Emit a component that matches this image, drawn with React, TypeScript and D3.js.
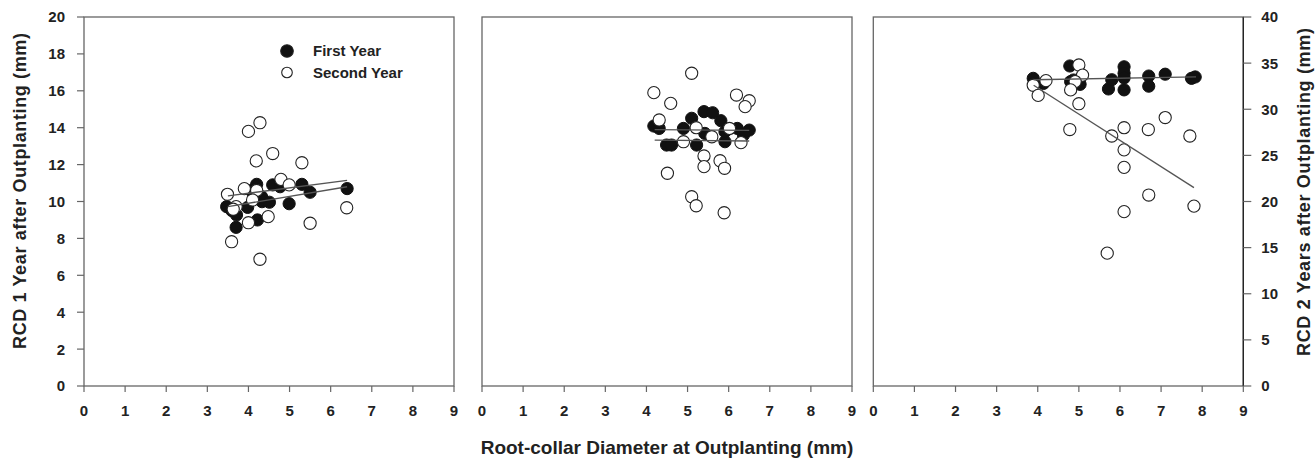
import * as d3 from "d3";

// x = RCD at outplanting (mm), y = RCD after outplanting (mm)
const p1First = [
  [3.47, 9.72], [3.6, 9.5], [3.7, 8.6], [3.71, 9.27], [3.98, 9.68], [4.06, 10.6],
  [4.2, 10.93], [4.22, 9.0], [4.32, 10.26], [4.33, 9.99], [4.51, 9.96], [4.59, 10.9],
  [4.77, 10.8], [4.99, 9.88], [5.3, 10.93], [5.5, 10.5], [6.4, 10.7],
];
const p1Second = [
  [4.28, 14.27], [4.0, 13.8], [4.59, 12.6], [4.19, 12.2], [5.3, 12.1], [4.79, 11.2],
  [4.99, 10.9], [3.9, 10.7], [4.2, 10.6], [3.49, 10.39], [4.1, 10.08], [3.7, 9.72],
  [3.63, 9.58], [4.48, 9.18], [4.0, 8.85], [5.5, 8.82], [6.39, 9.66], [3.59, 7.82],
  [4.28, 6.87],
];
const p2First = [
  [4.18, 14.09], [4.31, 13.96], [4.49, 13.06], [4.61, 13.06], [4.9, 13.96], [5.1, 14.51],
  [5.22, 13.06], [5.4, 14.87], [5.61, 14.81], [5.81, 14.38], [5.42, 13.69], [5.91, 13.24],
  [5.91, 13.78], [6.21, 13.96], [6.36, 13.6], [6.5, 13.87],
];
const p2Second = [
  [5.1, 16.95], [4.18, 15.9], [4.59, 15.32], [6.19, 15.77], [6.5, 15.46], [6.4, 15.14],
  [4.31, 14.42], [5.21, 14.0], [6.02, 13.96], [5.59, 13.51], [4.9, 13.24], [6.3, 13.19],
  [5.4, 12.47], [5.4, 11.89], [5.79, 12.21], [5.9, 11.8], [4.51, 11.53], [5.1, 10.26],
  [5.21, 9.77], [5.89, 9.39],
];
const p3First = [
  [3.89, 33.35], [4.14, 32.8], [4.78, 34.69], [4.8, 33.0], [4.87, 33.17], [5.03, 32.7],
  [5.72, 32.2], [5.8, 33.2], [6.1, 34.6], [6.1, 33.9], [6.1, 33.4], [6.1, 32.1],
  [6.7, 33.6], [6.7, 32.5], [7.1, 33.8], [7.74, 33.35], [7.83, 33.5],
];
const p3Second = [
  [3.89, 32.6], [4.2, 33.1], [4.01, 31.5], [5.0, 34.8], [5.09, 33.7], [4.91, 33.0],
  [4.8, 32.1], [5.0, 30.6], [4.78, 27.8], [5.8, 27.1], [6.1, 28.0], [6.69, 27.8],
  [7.1, 29.1], [7.7, 27.1], [6.1, 25.6], [6.1, 23.7], [6.7, 20.7], [7.8, 19.5],
  [6.1, 18.9], [5.69, 14.4],
];

// regression lines: [x0, y0, x1, y1]
const p1Fits = [[3.5, 9.72, 6.4, 10.8], [3.5, 10.3, 6.4, 11.15]];
const p2Fits = [[4.2, 13.9, 6.5, 13.85], [4.2, 13.33, 6.5, 13.28]];
const p3Fits = [[3.9, 33.2, 7.85, 33.5], [3.9, 32.6, 7.8, 21.5]];

const xTicks = [0, 1, 2, 3, 4, 5, 6, 7, 8, 9];
const leftTicks = [0, 2, 4, 6, 8, 10, 12, 14, 16, 18, 20];
const rightTicks = [0, 5, 10, 15, 20, 25, 30, 35, 40];
const legendLabels = ["First Year", "Second Year"];

const TOP = 17;
const BOTTOM = 386;
const PANEL_LEFT = [84, 482, 873.3];
const PANEL_W = 370;
const FONT = "'Liberation Sans', Arial, sans-serif";
const INK = "#222";
const FRAME = "#666";

const panels = [
  { first: p1First, second: p1Second, fits: p1Fits, yMax: 20 },
  { first: p2First, second: p2Second, fits: p2Fits, yMax: 20 },
  { first: p3First, second: p3Second, fits: p3Fits, yMax: 40 },
];

const Panel = ({ idx }) => {
  const p = panels[idx];
  const left = PANEL_LEFT[idx];
  const x = d3.scaleLinear().domain([0, 9]).range([left, left + PANEL_W]);
  const y = d3.scaleLinear().domain([0, p.yMax]).range([BOTTOM, TOP]);
  const r = 6.1;
  return (
    <g>
      <rect x={left} y={TOP} width={PANEL_W} height={BOTTOM - TOP} fill="none" stroke={FRAME} strokeWidth={1.3} />
      {xTicks.map((t) => (
        <g key={t}>
          <line x1={x(t)} x2={x(t)} y1={BOTTOM} y2={BOTTOM + 6} stroke={FRAME} strokeWidth={1.2} />
          <text x={x(t)} y={BOTTOM + 30} textAnchor="middle" fontSize={15} fontWeight="bold" fill={INK} fontFamily={FONT}>
            {t}
          </text>
        </g>
      ))}
      {p.first.map((d, i) => (
        <circle key={"f" + i} cx={x(d[0])} cy={y(d[1])} r={r} fill="#111" stroke="#111" strokeWidth={1} />
      ))}
      {p.second.map((d, i) => (
        <circle key={"s" + i} cx={x(d[0])} cy={y(d[1])} r={r} fill="white" stroke="#222" strokeWidth={1.1} />
      ))}
      {p.fits.map((f, i) => (
        <line key={"l" + i} x1={x(f[0])} y1={y(f[1])} x2={x(f[2])} y2={y(f[3])} stroke="#555" strokeWidth={1.3} />
      ))}
    </g>
  );
};

export default function App() {
  const yLeft = d3.scaleLinear().domain([0, 20]).range([BOTTOM, TOP]);
  const yRight = d3.scaleLinear().domain([0, 40]).range([BOTTOM, TOP]);
  const rightX = PANEL_LEFT[2] + PANEL_W;
  return (
    <svg width={1316} height={458} style={{ position: "absolute", left: 0, top: 0, background: "white" }}>
      {[0, 1, 2].map((i) => (
        <Panel key={i} idx={i} />
      ))}
      {/* left axis */}
      {leftTicks.map((t) => (
        <g key={t}>
          <line x1={PANEL_LEFT[0] - 7} x2={PANEL_LEFT[0]} y1={yLeft(t)} y2={yLeft(t)} stroke={FRAME} strokeWidth={1.2} />
          <text x={65} y={yLeft(t)} dy="0.36em" textAnchor="end" fontSize={15} fontWeight="bold" fill={INK} fontFamily={FONT}>
            {t}
          </text>
        </g>
      ))}
      {/* right axis */}
      <line x1={rightX} x2={rightX} y1={TOP} y2={BOTTOM} stroke="#222" strokeWidth={1.3} />
      {rightTicks.map((t) => (
        <g key={t}>
          <line x1={rightX} x2={rightX + 8} y1={yRight(t)} y2={yRight(t)} stroke={FRAME} strokeWidth={1.2} />
          <text x={rightX + 18} y={yRight(t)} dy="0.36em" textAnchor="start" fontSize={15} fontWeight="bold" fill={INK} fontFamily={FONT}>
            {t}
          </text>
        </g>
      ))}
      {/* legend */}
      {legendLabels.map((l, i) => (
        <g key={l}>
          <circle cx={287} cy={51 + i * 21.5} r={i === 0 ? 6.3 : 5.3} fill={i === 0 ? "#111" : "white"} stroke="#222" strokeWidth={1.1} />
          <text x={313} y={51 + i * 21.5} dy="0.36em" fontSize={15} fontWeight="bold" fill={INK} fontFamily={FONT}>
            {l}
          </text>
        </g>
      ))}
      <text transform="translate(26, 191) rotate(-90)" textAnchor="middle" fontSize={18} fontWeight="bold" fill={INK} fontFamily={FONT} textLength={316} lengthAdjust="spacing">
        RCD 1 Year after Outplanting (mm)
      </text>
      <text transform="translate(1310, 192) rotate(-90)" textAnchor="middle" fontSize={18} fontWeight="bold" fill={INK} fontFamily={FONT} textLength={328} lengthAdjust="spacing">
        RCD 2 Years after Outplanting (mm)
      </text>
      <text x={667} y={454} textAnchor="middle" fontSize={19} fontWeight="bold" fill={INK} fontFamily={FONT}>
        Root-collar Diameter at Outplanting (mm)
      </text>
    </svg>
  );
}
